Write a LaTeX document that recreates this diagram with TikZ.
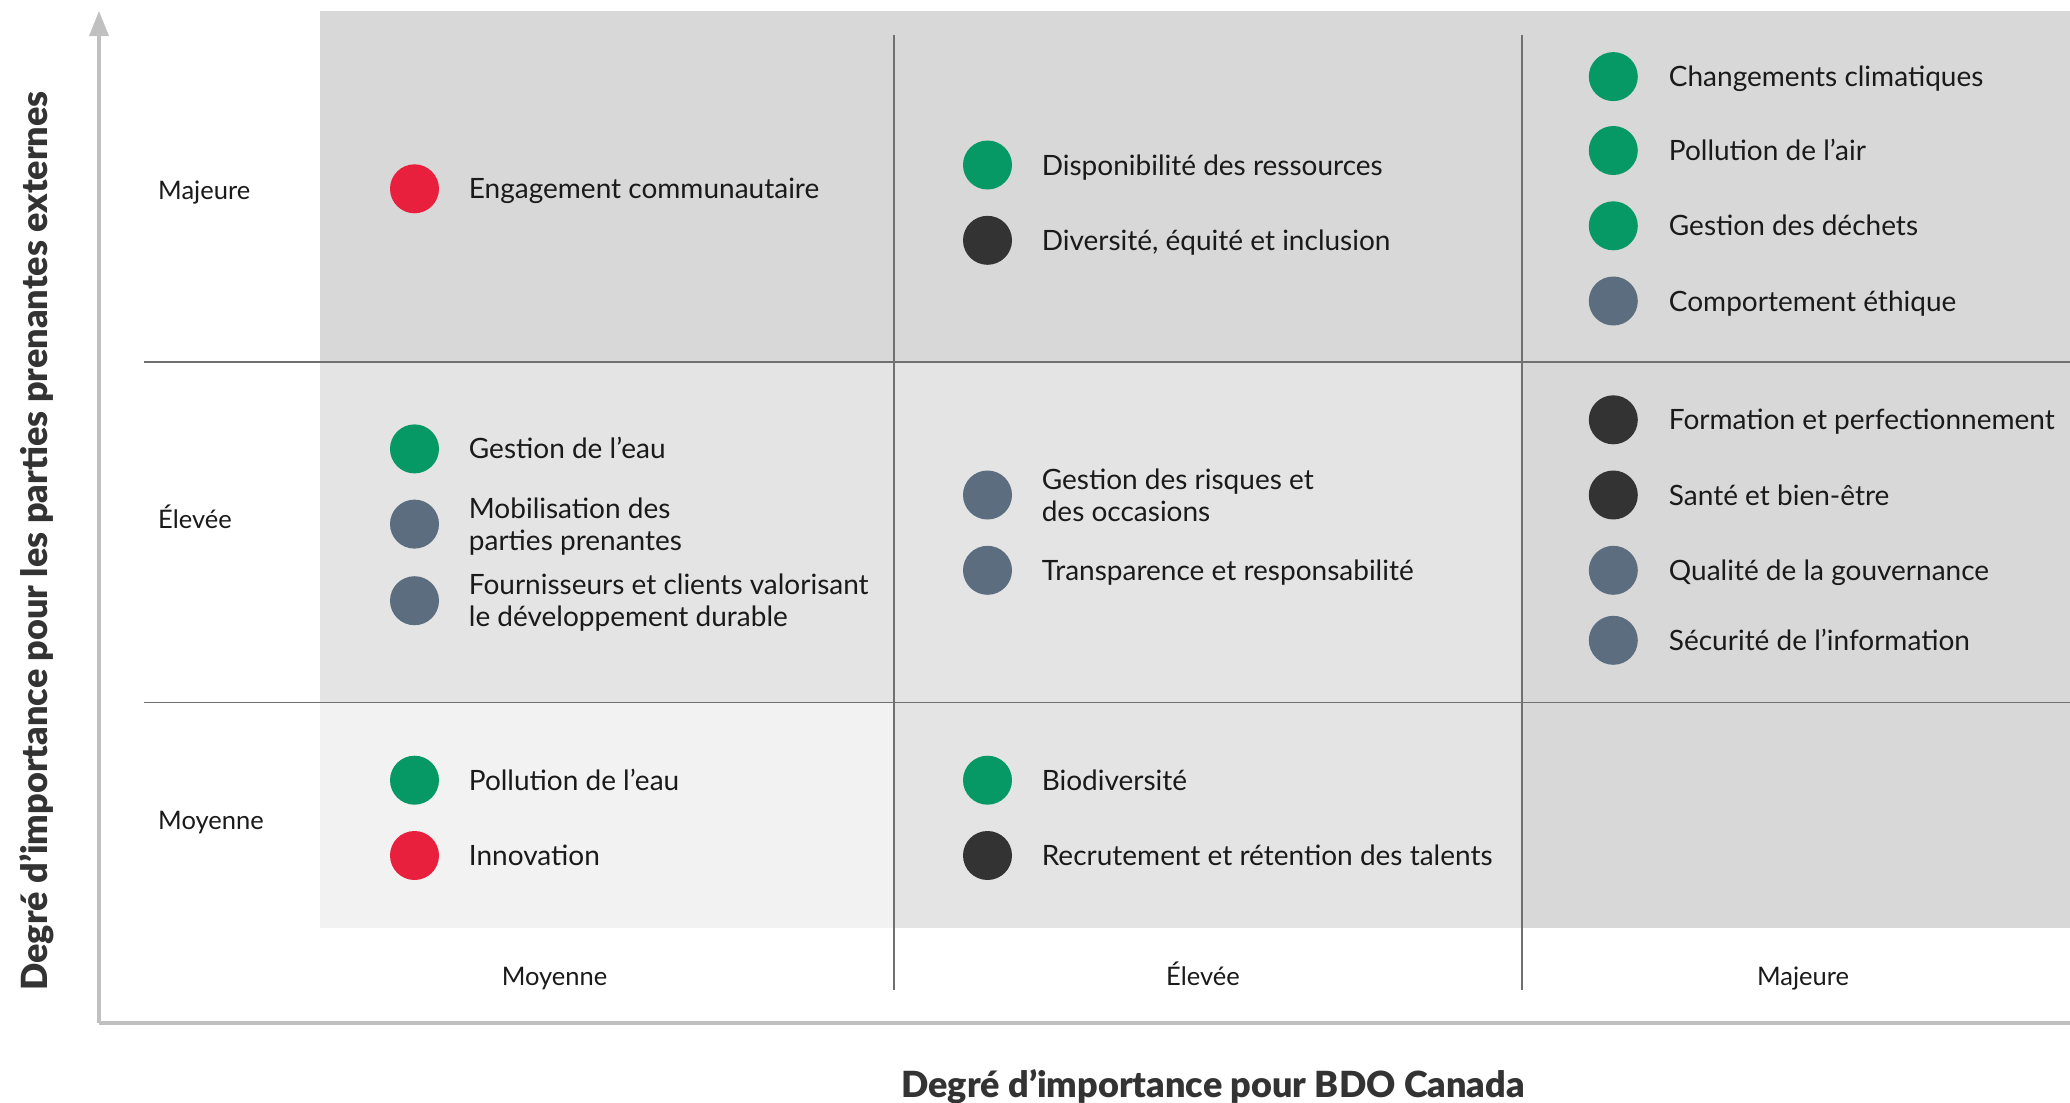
\documentclass[tikz,border=0pt]{standalone}
\usepackage{fontspec}
\setmainfont{Lato}
\newfontfamily\titlefont{Lato Black}
\usetikzlibrary{arrows.meta}
\definecolor{cellA}{HTML}{D8D8D8}
\definecolor{cellB}{HTML}{E4E4E4}
\definecolor{cellC}{HTML}{F2F2F2}
\definecolor{gridc}{HTML}{707070}
\definecolor{axisc}{HTML}{C0C0C0}
\definecolor{ink}{HTML}{1A1A1A}
\definecolor{titleink}{HTML}{333333}
\definecolor{envgreen}{HTML}{069865}
\definecolor{socred}{HTML}{E8203E}
\definecolor{govslate}{HTML}{5B6D7F}
\definecolor{peopledark}{HTML}{333333}

% one issue: dot and its label
\newcommand\mitem[6]{%
  \node[dot,fill=#5] (#1d) at (#2,#4) {};
  \node[lbl,anchor=base west] (#1t) at (#3,#4+10) {#6};}
% issue whose label runs over two lines (base = last line)
\newcommand\mitemtwo[6]{%
  \node[dot,fill=#5] (#1d) at (#2,#4) {};
  \node[lbl,anchor=base west,align=left] (#1t) at (#3,#4+26) {#6};}

\begin{document}
\begin{tikzpicture}[x=1pt,y=-1pt,
  dot/.style={circle,draw=none,minimum size=49pt,inner sep=0pt},
  lbl/.style={inner sep=0pt,text=ink,font=\fontsize{28}{32}\selectfont},
  rowlbl/.style={inner sep=0pt,text=ink,font=\fontsize{25.5}{30}\selectfont},
  axtitle/.style={inner sep=0pt,text=titleink,font=\titlefont\fontsize{36}{40}\selectfont},
  gridline/.style={draw=gridc,line width=1.5pt},
  axisline/.style={draw=axisc,line width=3.5pt}]
\useasboundingbox (0,0) rectangle (2070,1103);
\fill[white] (0,0) rectangle (2070,1103);

% shaded cells
\fill[cellA] (319.5,10.7) rectangle (2070,928);
\fill[cellB] (319.5,362) rectangle (1522,702.4);
\fill[cellC] (319.5,702.4) rectangle (894,928);
\fill[cellB] (894,702.4) rectangle (1522,928);

% grid
\coordinate (r1l) at (144,362);  \coordinate (r1r) at (2070,362);
\coordinate (r2l) at (144,702.4); \coordinate (r2r) at (2070,702.4);
\coordinate (c1t) at (894,35);   \coordinate (c1b) at (894,990);
\coordinate (c2t) at (1522,35);  \coordinate (c2b) at (1522,990);
\draw[gridline] (r1l) -- (r1r);
\draw[gridline] (r2l) -- (r2r);
\draw[gridline] (c1t) -- (c1b);
\draw[gridline] (c2t) -- (c2b);

% axes
\coordinate (origin) at (99,1023);
\coordinate (ytop) at (99,11);
\coordinate (xend) at (2070,1023);
\draw[axisline] (origin) -- (xend);
\draw[axisline,-{Triangle[width=19pt,length=25pt]},fill=axisc] (origin) -- (ytop);

% row and column levels
\node[rowlbl,anchor=base west] (rMaj) at (158,199) {Majeure};
\node[rowlbl,anchor=base west] (rElev) at (158,528) {Élevée};
\node[rowlbl,anchor=base west] (rMoy) at (158,829) {Moyenne};
\node[rowlbl,anchor=base] (cMoy) at (554.5,985) {Moyenne};
\node[rowlbl,anchor=base] (cElev) at (1203,985) {Élevée};
\node[rowlbl,anchor=base] (cMaj) at (1803,985) {Majeure};

% axis titles
\node[axtitle] (xtitle) at (1213,1087) {Degré d’importance pour BDO Canada};
\node[axtitle,rotate=90] (ytitle) at (37,541) {Degré d’importance pour les parties prenantes externes};

% top row
\mitem{engc}{414.5}{468.7}{188.8}{socred}{Engagement communautaire}
\mitem{disp}{987.5}{1041.6}{165}{envgreen}{Disponibilité des ressources}
\mitem{dive}{987.5}{1041.6}{240.3}{peopledark}{Diversité, équité et inclusion}
\mitem{clim}{1613.3}{1668.7}{76.6}{envgreen}{Changements climatiques}
\mitem{pair}{1613.3}{1668.7}{150.5}{envgreen}{Pollution de l’air}
\mitem{dech}{1613.3}{1668.7}{225.8}{envgreen}{Gestion des déchets}
\mitem{ethi}{1613.3}{1668.7}{301}{govslate}{Comportement éthique}

% middle row
\mitem{geau}{414.5}{468.7}{448.9}{envgreen}{Gestion de l’eau}
\mitemtwo{mobi}{414.5}{468.7}{524.1}{govslate}{Mobilisation des\\parties prenantes}
\mitemtwo{four}{414.5}{468.7}{600.7}{govslate}{Fournisseurs et clients valorisant\\le développement durable}
\mitemtwo{risq}{987.5}{1041.6}{495}{govslate}{Gestion des risques et\\des occasions}
\mitem{tran}{987.5}{1041.6}{570.3}{govslate}{Transparence et responsabilité}
\mitem{form}{1613.3}{1668.7}{419.8}{peopledark}{Formation et perfectionnement}
\mitem{sant}{1613.3}{1668.7}{495}{peopledark}{Santé et bien-être}
\mitem{gouv}{1613.3}{1668.7}{570.3}{govslate}{Qualité de la gouvernance}
\mitem{secu}{1613.3}{1668.7}{640.3}{govslate}{Sécurité de l’information}

% bottom row
\mitem{peau}{414.5}{468.7}{780.2}{envgreen}{Pollution de l’eau}
\mitem{inno}{414.5}{468.7}{855.5}{socred}{Innovation}
\mitem{biod}{987.5}{1041.6}{780.2}{envgreen}{Biodiversité}
\mitem{recr}{987.5}{1041.6}{855.5}{peopledark}{Recrutement et rétention des talents}
\end{tikzpicture}
\end{document}
